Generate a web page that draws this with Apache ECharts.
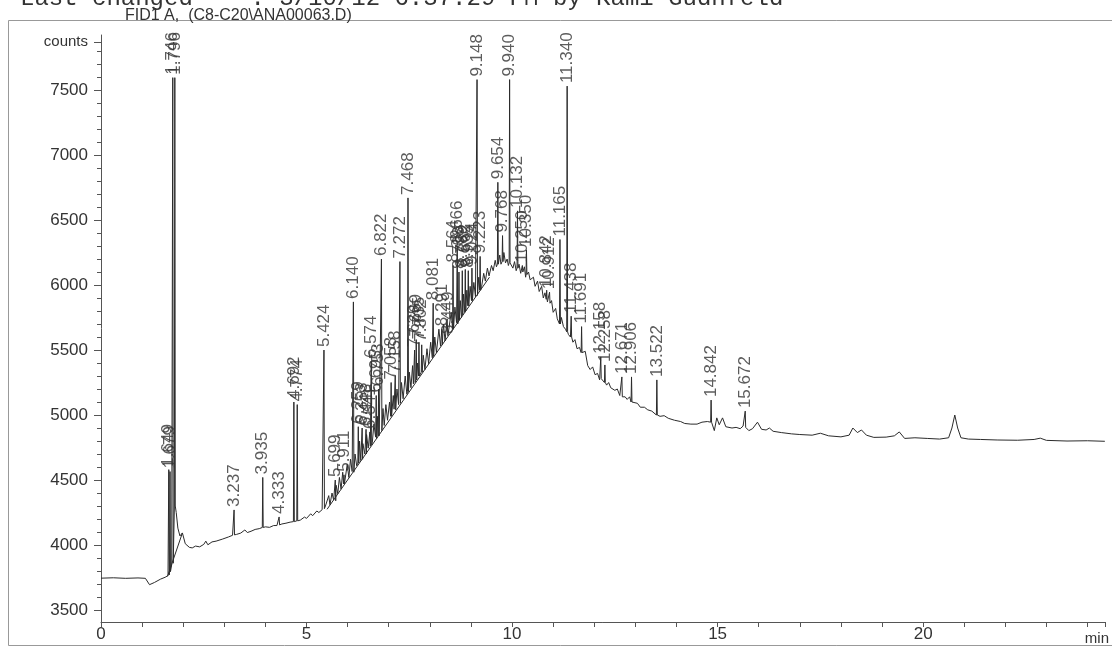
<!DOCTYPE html>
<html><head><meta charset="utf-8">
<script src="https://cdn.jsdelivr.net/npm/echarts@6/dist/echarts.min.js"></script>
<style>html,body{margin:0;padding:0;background:#fff}#c{width:1112px;height:648px}</style>
</head><body><div id="c"></div>
<script>
// ---- axis ticks / labels ----
const xTickLabels = [0, 5, 10, 15, 20];
const yTickLabels = [3500, 4000, 4500, 5000, 5500, 6000, 6500, 7000, 7500];
const countsLabelAt = 7870;

// ---- detector trace (time min, counts) ----
const tracePoints = [
 [0,3745],[0.3,3748],[0.6,3744],[0.9,3747],[1.08,3744],[1.18,3695],[1.3,3712],[1.45,3738],[1.56,3752],[1.63,3765],[1.72,3850],
 [1.83,4250],[1.87,4130],[1.92,4070],[1.98,4093],[2.05,4010],[2.15,3982],[2.22,3978],[2.3,3992],[2.4,3986],[2.5,4005],[2.55,4030],
 [2.6,4002],[2.7,4024],[2.8,4030],[2.95,4045],[3.1,4062],[3.2,4075],[3.3,4082],[3.4,4092],[3.5,4116],[3.56,4096],[3.65,4106],
 [3.75,4120],[3.85,4126],[4.0,4140],[4.1,4136],[4.2,4150],[4.28,4150],[4.4,4162],[4.5,4168],[4.6,4176],[4.85,4192],[4.95,4215],
 [5.0,4205],[5.1,4240],[5.15,4226],[5.25,4262],[5.3,4250],[5.38,4272],
 [5.46,4300],[5.50,4285],[5.54,4380],[5.57,4310],[5.62,4400],[5.66,4345],[5.72,4460],[5.76,4395],[5.80,4520],[5.84,4430],
 [5.88,4560],[5.95,4480],[5.99,4620],[6.03,4520],[6.07,4660],[6.11,4565],[6.18,4700],[6.22,4610],[6.29,4800],[6.32,4650],
 [6.37,4780],[6.42,4700],[6.46,4850],[6.50,4745],[6.60,4790],[6.64,4930],[6.68,4830],[6.73,4990],[6.77,4870],[6.86,5050],
 [6.89,4920],[6.93,5080],[6.97,4960],[7.02,5100],[7.08,5000],[7.11,5150],[7.13,5045],[7.20,5200],[7.24,5080],[7.31,5250],
 [7.35,5125],[7.40,5300],[7.44,5160],[7.50,5330],[7.54,5210],[7.58,5380],[7.60,5240],[7.70,5400],[7.76,5300],[7.84,5460],
 [7.88,5350],[7.93,5510],[7.97,5395],[8.02,5560],[8.06,5440],[8.12,5600],[8.16,5480],[8.22,5660],[8.26,5530],[8.33,5700],
 [8.37,5570],[8.42,5740],[8.47,5620],[8.52,5790],[8.585,5665],[8.61,5830],[8.65,5710],[8.74,5880],[8.77,5750],[8.82,5930],
 [8.85,5790],[8.90,5960],[8.955,5830],[8.98,5990],[9.045,5870],[9.07,6020],[9.11,5910],[9.19,6060],[9.26,5990],[9.31,6090],
 [9.35,6030],[9.40,6130],[9.44,6070],[9.50,6150],[9.54,6110],[9.59,6190],[9.62,6140],[9.70,6230],[9.73,6160],[9.80,6250],
 [9.84,6170],[9.88,6200],[9.91,6150],[9.97,6180],[10.02,6130],[10.06,6180],[10.10,6110],[10.17,6160],[10.21,6090],[10.30,6140],
 [10.33,6060],[10.40,6100],[10.44,6040],[10.52,6060],[10.56,5990],[10.62,6030],[10.66,5950],[10.72,5990],[10.76,5900],[10.80,5940],
 [10.86,5870],[10.96,5880],[11.00,5790],[11.06,5820],[11.10,5740],[11.20,5750],[11.25,5680],[11.30,5660],[11.37,5620],[11.42,5600],
 [11.48,5560],[11.53,5580],[11.58,5510],[11.64,5520],[11.72,5470],[11.78,5490],[11.84,5380],[11.90,5350],[11.96,5370],[12.02,5310],
 [12.08,5320],[12.13,5270],[12.20,5290],[12.30,5230],[12.35,5250],[12.40,5210],[12.50,5190],[12.56,5200],[12.62,5150],[12.75,5140],
 [12.80,5120],[12.86,5140],[12.95,5100],[13.05,5090],[13.12,5060],[13.22,5060],[13.30,5040],[13.40,5030],[13.60,4990],[13.70,4995],
 [13.80,4975],[13.95,4960],[14.10,4950],[14.20,4935],[14.35,4930],[14.50,4930],[14.62,4945],[14.75,4950],[14.92,4880],[14.98,4978],
 [15.04,4925],[15.12,4978],[15.20,4910],[15.35,4900],[15.45,4905],[15.55,4895],[15.62,4915],[15.76,4880],[15.85,4895],[15.97,4945],
 [16.07,4890],[16.18,4885],[16.26,4900],[16.35,4875],[16.55,4865],[16.80,4855],[17.00,4850],[17.30,4845],[17.50,4860],[17.70,4840],
 [18.00,4832],[18.20,4845],[18.29,4900],[18.40,4865],[18.50,4885],[18.62,4845],[18.80,4828],[19.10,4830],[19.30,4840],[19.42,4870],
 [19.55,4820],[19.80,4825],[20.10,4820],[20.40,4815],[20.62,4825],[20.70,4900],[20.77,5000],[20.84,4900],[20.92,4825],[21.10,4815],
 [21.40,4812],[21.80,4808],[22.30,4806],[22.70,4812],[22.85,4822],[23.00,4805],[23.50,4800],[24.00,4802],[24.42,4798]
];

// ---- labelled peaks: retention time, apex counts, local base counts ----
const peakTimes = [1.649,1.679,1.746,1.796,3.237,3.935,4.333,4.692,4.774,5.424,5.699,5.911,6.140,6.259,6.353,6.448,6.541,6.574,
 6.695,6.753,6.822,7.058,7.158,7.272,7.468,7.629,7.669,7.735,7.802,8.081,8.291,8.449,8.564,8.666,8.708,8.789,8.862,8.935,9.024,
 9.148,9.223,9.654,9.768,9.940,10.132,10.250,10.350,10.842,10.912,11.165,11.340,11.438,11.691,12.158,12.258,12.671,12.906,13.522,
 14.842,15.672];
const peakApex = [4580,4565,7595,7595,4270,4520,4216,5100,5080,5500,4500,4540,5870,4910,4900,4890,4870,5415,
 5150,5200,6200,5250,5300,6180,6670,5500,5580,5560,5540,5860,5660,5600,6150,6300,6100,6110,6120,6110,6130,
 7580,6220,6790,6380,7580,6570,6150,6270,5960,5945,6350,7530,5760,5680,5447,5385,5293,5293,5270,
 5115,5030];
const peakBase = [3770,3795,3860,4300,4078,4135,4155,4180,4186,4280,4340,4470,4560,4630,4660,4700,4760,4770,
 4820,4840,4880,4990,5040,5090,5180,5250,5270,5300,5330,5450,5540,5610,5660,5700,5730,5770,5800,5840,5880,
 5920,5960,6160,6180,6170,6130,6100,6080,5890,5860,5700,5640,5600,5480,5280,5250,5140,5100,5000,
 4945,4905];

// ---- integrator baselines ----
const baselineSolvent = [[1.62,3760],[1.98,4093]];
const baselineHump = [[5.5,4275],[9.45,6060]];

const halfW = 0.011;
const signal = tracePoints.map(p => p.slice());
peakTimes.forEach((t, i) => {
  signal.push([t - halfW, peakBase[i]], [t, peakApex[i]], [t + halfW, peakBase[i]]);
});
signal.sort((a, b) => a[0] - b[0]);

const minorY = [];
for (let v = 3500; v <= 7800; v += 100) minorY.push(v);

const FONT = '"Liberation Sans", Arial, sans-serif';
const ink = '#333';
const axisInk = '#555';

const chart = echarts.init(document.getElementById('c'), null, {renderer: 'canvas'});
chart.setOption({
  animation: false,
  backgroundColor: '#fff',
  title: {
    text: 'FID1 A,  (C8-C20\\ANA00063.D)',
    left: 120, top: 3,
    textStyle: {fontSize: 16, fontWeight: 'normal', color: ink, fontFamily: FONT}
  },
  grid: {left: 101, right: 0, top: 35, bottom: 26, containLabel: false},
  xAxis: {
    type: 'value', min: 0, max: 24.42, interval: 5,
    axisLine: {show: true, onZero: false, lineStyle: {color: axisInk, width: 1}},
    axisTick: {show: true, length: 5, lineStyle: {color: axisInk}},
    minorTick: {show: true, splitNumber: 5, length: 5, lineStyle: {color: axisInk}},
    axisLabel: {fontSize: 17, color: ink, margin: 4, fontFamily: FONT,
      formatter: v => xTickLabels.indexOf(v) >= 0 ? String(v) : ''},
    splitLine: {show: false}, minorSplitLine: {show: false},
    name: 'min', nameLocation: 'end', nameGap: -20,
    nameTextStyle: {fontSize: 15, color: ink, fontFamily: FONT, verticalAlign: 'top', align: 'left', padding: [9, 0, 0, 0]}
  },
  yAxis: [
    {
      type: 'value', min: 3408, max: 7923, position: 'left',
      axisLine: {show: true, onZero: false, lineStyle: {color: axisInk, width: 1}},
      axisTick: {show: true, length: 7, customValues: yTickLabels.concat([countsLabelAt]), lineStyle: {color: axisInk}},
      axisLabel: {show: true, customValues: yTickLabels.concat([countsLabelAt]), fontSize: 17, color: ink, margin: 13, fontFamily: FONT,
        formatter: v => v === countsLabelAt ? '{c|counts}' : String(v),
        rich: {c: {fontSize: 15, color: ink, fontFamily: FONT}}},
      splitLine: {show: false}
    },
    {
      type: 'value', min: 3408, max: 7923, position: 'left',
      axisLine: {show: false},
      axisTick: {show: true, length: 4, customValues: minorY, lineStyle: {color: axisInk}},
      axisLabel: {show: false},
      splitLine: {show: false}
    }
  ],
  series: [
    {
      type: 'line', name: 'FID1 A', data: signal, yAxisIndex: 0,
      symbol: 'none', sampling: null, smooth: false,
      lineStyle: {color: '#2b2b2b', width: 1}, z: 3
    },
    {
      type: 'line', data: baselineSolvent, symbol: 'none',
      lineStyle: {color: '#2b2b2b', width: 1}, z: 2
    },
    {
      type: 'line', data: baselineHump, symbol: 'none',
      lineStyle: {color: '#2b2b2b', width: 1}, z: 2
    },
    {
      type: 'scatter', data: peakTimes.map((t, i) => [t, peakApex[i]]),
      symbolSize: 0, z: 4,
      label: {
        show: true, position: 'top', distance: 3, rotate: 90,
        align: 'left', verticalAlign: 'middle',
        fontSize: 17, color: ink, fontFamily: FONT,
        formatter: p => p.value[0].toFixed(3)
      }
    }
  ],
  graphic: [
    {type: 'rect', silent: true, shape: {x: 8.5, y: 20.5, width: 1200, height: 625},
      style: {fill: 'none', stroke: '#999', lineWidth: 1}},
    {type: 'text', silent: true, x: 20, y: -1,
      style: {text: 'Last changed    : 3/10/12 6:37:29 PM by Kami Gudnfeld', font: '24px "Liberation Mono", monospace',
        fill: ink, align: 'left', verticalAlign: 'middle'}}
  ]
});
</script>
</body></html>
